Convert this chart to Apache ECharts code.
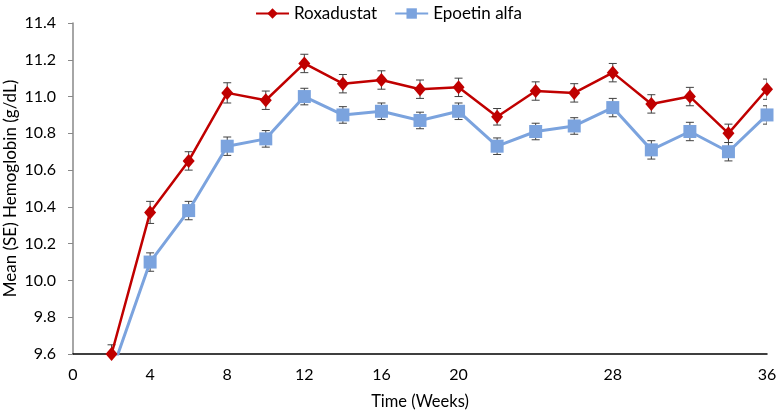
<!DOCTYPE html>
<html>
<head>
<meta charset="utf-8">
<script src="https://cdn.jsdelivr.net/npm/echarts@6/dist/echarts.min.js"></script>
<style>html,body{margin:0;padding:0;background:#fff}#c{width:777px;height:416px}</style>
</head>
<body>
<div id="c"></div>
<script>
const weeks = [2,4,6,8,10,12,14,16,18,20,22,24,26,28,30,32,34,36];
const roxa = [9.60,10.37,10.65,11.02,10.98,11.18,11.07,11.09,11.04,11.05,10.89,11.03,11.02,11.13,10.96,11.00,10.80,11.04];
const roxaSE = [0.05,0.06,0.05,0.055,0.05,0.05,0.05,0.05,0.05,0.05,0.045,0.05,0.05,0.05,0.05,0.05,0.05,0.055];
const epo = [9.50,10.10,10.38,10.73,10.77,11.00,10.90,10.92,10.87,10.92,10.73,10.81,10.84,10.94,10.71,10.81,10.70,10.90];
const epoSE = [0.05,0.05,0.05,0.05,0.045,0.045,0.045,0.045,0.045,0.045,0.045,0.045,0.045,0.05,0.05,0.05,0.05,0.05];
const xTickLabels = ['0','4','8','12','16','20','','28','','36'];
const seriesNames = ['Roxadustat','Epoetin alfa'];

const FONT = 'Lato';
function errData(vals, se){ return weeks.map((w,i)=>[w, vals[i]-se[i], vals[i]+se[i]]); }
function errRender(params, api){
  const x = api.value(0);
  const lo = api.coord([x, api.value(1)]);
  const hi = api.coord([x, api.value(2)]);
  const hw = 4;
  const st = {stroke:'#404040', lineWidth:1};
  return {type:'group', children:[
    {type:'line', shape:{x1:lo[0],y1:lo[1],x2:hi[0],y2:hi[1]}, style:st},
    {type:'line', shape:{x1:lo[0]-hw,y1:lo[1],x2:lo[0]+hw,y2:lo[1]}, style:st},
    {type:'line', shape:{x1:hi[0]-hw,y1:hi[1],x2:hi[0]+hw,y2:hi[1]}, style:st}
  ]};
}
const chart = echarts.init(document.getElementById('c'));
chart.setOption({
  animation:false,
  textStyle:{fontFamily:FONT},
  legend:{
    top:0, left:'center', itemWidth:33, itemHeight:13, itemGap:17,
    textStyle:{fontFamily:FONT,fontSize:17,color:'#000'},
    data:seriesNames
  },
  grid:{left:73,right:10,top:23,bottom:62,containLabel:false,outerBoundsMode:'none'},
  xAxis:{
    type:'value', min:0, max:36, interval:4,
    name:'Time (Weeks)', nameLocation:'middle', nameGap:39, nameMoveOverlap:false,
    nameTextStyle:{fontFamily:FONT,fontSize:16.5,color:'#000'},
    axisLine:{lineStyle:{color:'#000',width:1.5}},
    axisTick:{show:false},
    splitLine:{show:false},
    axisLabel:{fontFamily:FONT,fontSize:16,color:'#000',margin:13,
      formatter:(v)=>xTickLabels[Math.round(v/4)]}
  },
  yAxis:{
    type:'value', min:9.6, max:11.4, interval:0.2,
    name:'Mean (SE) Hemoglobin (g/dL)', nameLocation:'middle', nameGap:54, nameMoveOverlap:false,
    nameTextStyle:{fontFamily:FONT,fontSize:17,color:'#000'},
    axisLine:{show:true,lineStyle:{color:'#888',width:1.5}},
    axisTick:{show:true,length:5,lineStyle:{color:'#888'}},
    splitLine:{show:false},
    axisLabel:{fontFamily:FONT,fontSize:16,color:'#000',margin:17,
      formatter:(v)=>v.toFixed(1)}
  },
  series:[
    {type:'custom', name:'roxaErr', renderItem:errRender, data:errData(roxa,roxaSE), clip:true, z:1, silent:true},
    {type:'custom', name:'epoErr', renderItem:errRender, data:errData(epo,epoSE), clip:true, z:1, silent:true},
    {type:'line', name:seriesNames[1], data:weeks.map((w,i)=>[w,epo[i]]), symbol:'rect', symbolSize:13,
      itemStyle:{color:'#7BA3DE'}, lineStyle:{color:'#7BA3DE',width:3}, clip:true, z:3},
    {type:'line', name:seriesNames[0], data:weeks.map((w,i)=>[w,roxa[i]]), symbol:'diamond', symbolSize:[12,14],
      itemStyle:{color:'#C00000'}, lineStyle:{color:'#C00000',width:2.5}, clip:true, z:4}
  ]
});
</script>
</body>
</html>
